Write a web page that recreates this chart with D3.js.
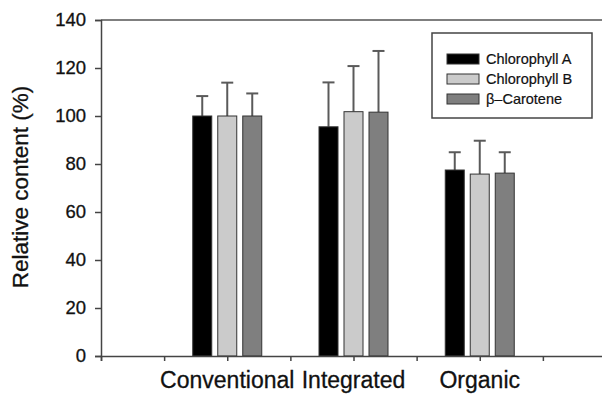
<!DOCTYPE html>
<html>
<head>
<meta charset="utf-8">
<script src="https://cdn.jsdelivr.net/npm/d3@7"></script>
<style>
  body { margin: 0; background: #fff; }
  svg { display: block; font-family: "Liberation Sans", Arial, sans-serif; }
</style>
</head>
<body>
<svg id="chart" width="602" height="395"></svg>
<script>
// chart data
const categories = ['Conventional', 'Integrated', 'Organic'];
const categoryPos = [2, 4, 6];
const seriesNames = ['Chlorophyll A', 'Chlorophyll B', '\u03B2\u2013Carotene'];
const chlorophyllA = [100, 95.5, 77.5];
const chlorophyllB = [100, 101.8, 75.8];
const carotene = [100, 101.6, 76.2];
const errA = [8.3, 18.5, 7.4];
const errB = [13.9, 19.0, 13.9];
const errC = [9.4, 25.5, 8.7];
const yTicks = [0, 20, 40, 60, 80, 100, 120, 140];
const xTicks = [0, 1, 2, 3, 4, 5, 6, 7];

const colors = ['#000000', '#cbcbcb', '#7f7f7f'];
const values = [chlorophyllA, chlorophyllB, carotene];
const errors = [errA, errB, errC];

const svg = d3.select('#chart');

const x = d3.scaleLinear().domain([0, 8]).range([101, 606]);
const y = d3.scaleLinear().domain([0, 140]).range([356, 20]);
const inner = d3.scaleBand().domain(seriesNames).range([-34.5, 34.5]).paddingInner(0.24);

// build rows
const rows = [];
categories.forEach((c, i) => {
  seriesNames.forEach((s, j) => {
    rows.push({cat: c, pos: categoryPos[i], series: s, idx: j, value: values[j][i], err: errors[j][i]});
  });
});

// top frame line
svg.append('line')
  .attr('x1', x(0)).attr('x2', 602)
  .attr('y1', y(140)).attr('y2', y(140))
  .attr('stroke', '#555').attr('stroke-width', 1.5);

// error bars (drawn under bars)
const eb = svg.append('g').attr('stroke', '#5a5a5a').attr('stroke-width', 2);
eb.selectAll('.err')
  .data(rows)
  .enter()
  .append('line')
  .attr('x1', d => x(d.pos) + inner(d.series) + inner.bandwidth() / 2)
  .attr('x2', d => x(d.pos) + inner(d.series) + inner.bandwidth() / 2)
  .attr('y1', d => y(d.value))
  .attr('y2', d => y(d.value + d.err));
eb.selectAll('.cap')
  .data(rows)
  .enter()
  .append('line')
  .attr('x1', d => x(d.pos) + inner(d.series) + inner.bandwidth() / 2 - 6)
  .attr('x2', d => x(d.pos) + inner(d.series) + inner.bandwidth() / 2 + 6)
  .attr('y1', d => y(d.value + d.err))
  .attr('y2', d => y(d.value + d.err));

// bars
svg.selectAll('.bar')
  .data(rows)
  .enter()
  .append('rect')
  .attr('class', 'bar')
  .attr('x', d => x(d.pos) + inner(d.series))
  .attr('y', d => y(d.value))
  .attr('width', inner.bandwidth())
  .attr('height', d => y(0) - y(d.value))
  .attr('fill', d => colors[d.idx])
  .attr('stroke', '#333')
  .attr('stroke-width', 1);

// y axis
const yAxis = svg.append('g')
  .attr('transform', `translate(${x(0)},0)`)
  .call(d3.axisLeft(y).tickValues(yTicks).tickSize(6).tickPadding(9));
yAxis.select('.domain').attr('stroke', '#444').attr('stroke-width', 1.5);
yAxis.selectAll('.tick line').attr('stroke', '#444').attr('stroke-width', 1.5);
yAxis.selectAll('.tick text').attr('font-size', '18.5px').attr('fill', '#111')
  .attr('stroke', '#111').attr('stroke-width', 0.3)
  .attr('font-family', '"Liberation Sans", Arial, sans-serif');

// x axis
const xAxis = svg.append('g')
  .attr('transform', `translate(0,${y(0)})`)
  .call(d3.axisBottom(x).tickValues(xTicks).tickSize(5).tickFormat(''));
xAxis.select('.domain').attr('stroke', '#444').attr('stroke-width', 1.5);
xAxis.selectAll('.tick line').attr('stroke', '#444').attr('stroke-width', 1.5);

// category labels
svg.selectAll('.cat-label')
  .data(categories)
  .enter()
  .append('text')
  .attr('class', 'cat-label')
  .attr('x', (d, i) => x(categoryPos[i]))
  .attr('y', 388)
  .attr('text-anchor', 'middle')
  .attr('font-size', '23px')
  .attr('fill', '#111')
  .attr('stroke', '#111').attr('stroke-width', 0.3)
  .text(d => d);

// y axis title
svg.append('text')
  .attr('transform', 'translate(28,187) rotate(-90)')
  .attr('text-anchor', 'middle')
  .attr('font-size', '22.5px')
  .attr('fill', '#111')
  .attr('stroke', '#111').attr('stroke-width', 0.3)
  .text('Relative content (%)');

// legend
const legend = svg.append('g');
legend.append('rect')
  .attr('x', 432).attr('y', 33)
  .attr('width', 160).attr('height', 85)
  .attr('fill', '#fff').attr('stroke', '#444').attr('stroke-width', 1.5);
seriesNames.forEach((s, i) => {
  legend.append('rect')
    .attr('x', 447).attr('y', 54 + i * 20)
    .attr('width', 32).attr('height', 10)
    .attr('fill', colors[i]).attr('stroke', '#333');
  legend.append('text')
    .attr('x', 486).attr('y', 64 + i * 20)
    .attr('font-size', '14.5px')
    .attr('fill', '#111')
    .attr('stroke', '#111').attr('stroke-width', 0.2)
    .text(s);
});
</script>
</body>
</html>
